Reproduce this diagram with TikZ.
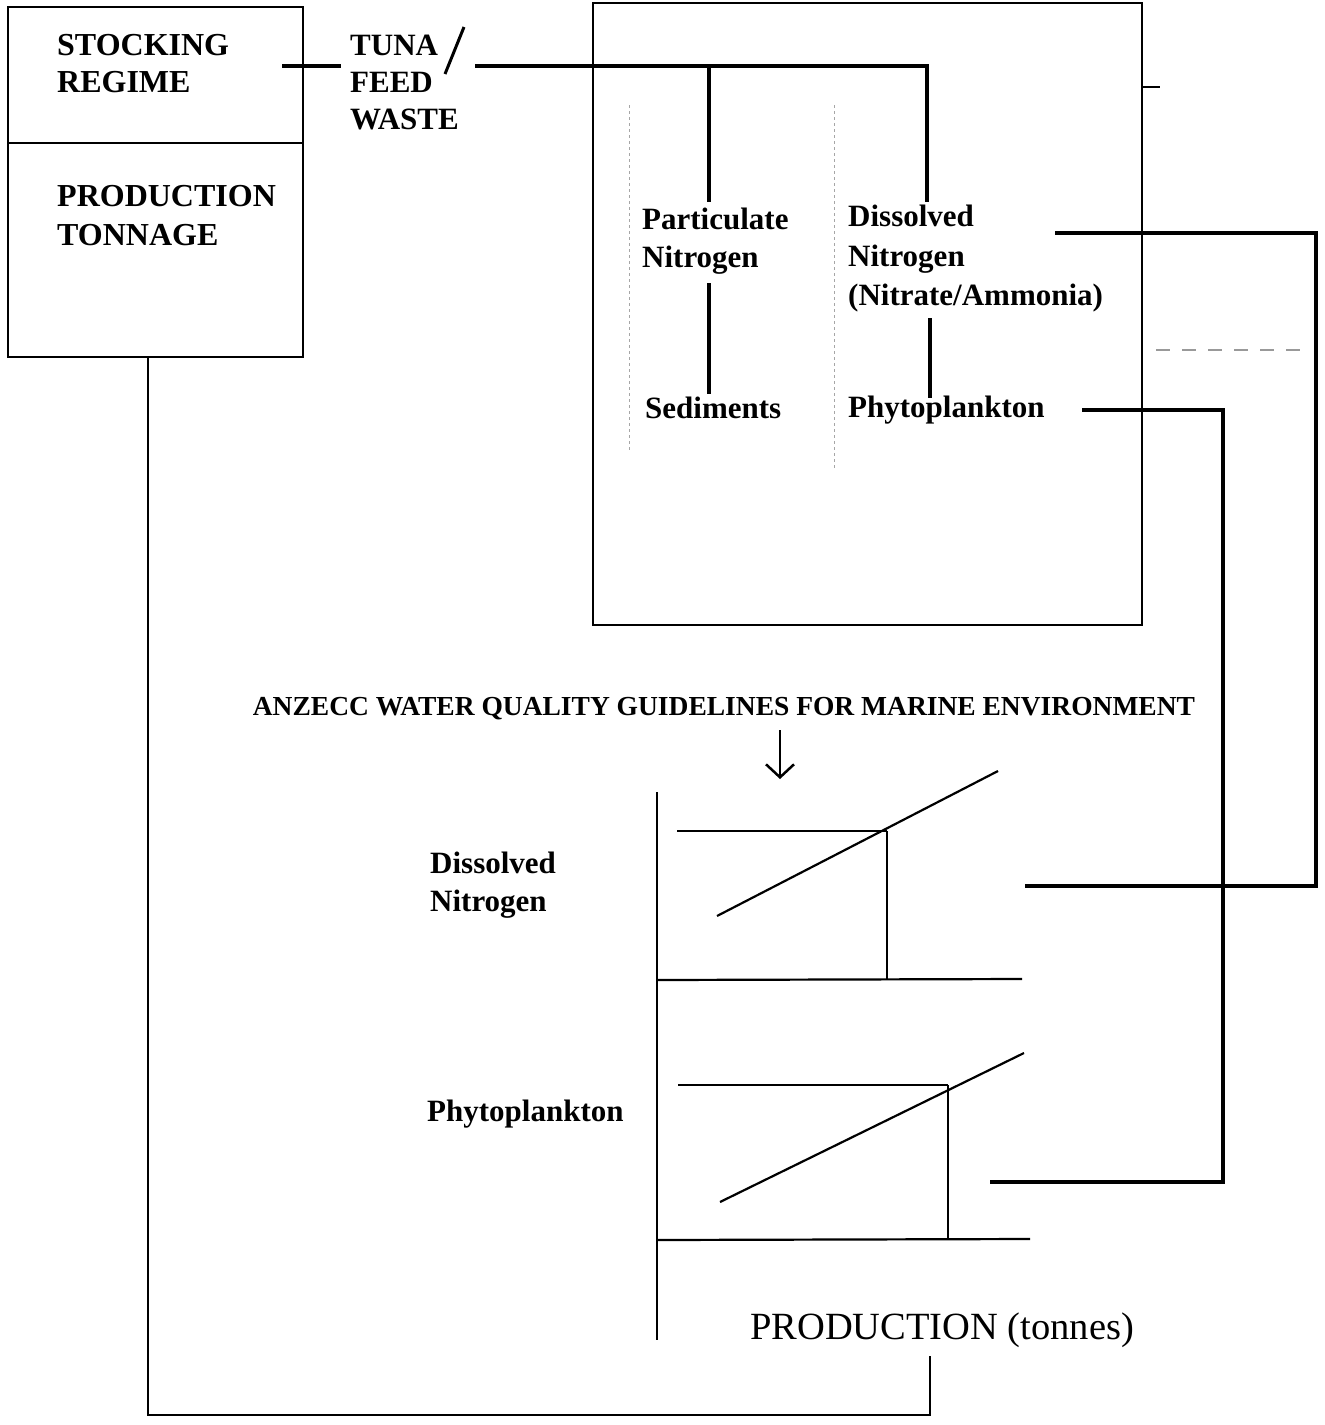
\documentclass[tikz,border=0pt]{standalone}
\usepackage{fontspec}
\setmainfont{Liberation Serif}
\usetikzlibrary{arrows.meta}
\begin{document}
\begin{tikzpicture}[x=1pt,y=-1pt,
  lbl/.style={font=\fontsize{31}{38.5}\selectfont\bfseries, align=left, anchor=west, inner sep=0pt},
  boxl/.style={draw, line width=2.3pt, inner sep=0pt},
  conn/.style={line width=3.5pt},
  chart/.style={line width=2.2pt},
  faint/.style={gray!70, dashed, line width=0.8pt}]
\useasboundingbox (0,0) rectangle (1325,1425);
\fill[white] (0,0) rectangle (1325,1425);

% left box
\node[boxl, minimum width=295pt, minimum height=350pt] (lbox) at (155.5,182) {};
\draw[line width=2.3pt] (8,143) -- (303,143);
\node[lbl, font=\fontsize{32}{37}\selectfont\bfseries] (stock) at (57,63.5) {STOCKING\\REGIME};
\node[lbl, font=\fontsize{32}{39}\selectfont\bfseries] (prod) at (57,215.5) {PRODUCTION\\TONNAGE};

% tuna feed waste
\node[lbl, font=\fontsize{31}{37}\selectfont\bfseries] (tuna) at (350,82) {TUNA\\FEED\\WASTE};
\draw[line width=3pt] (464,27) -- (445,74);

% right box
\node[boxl, minimum width=549pt, minimum height=622pt] (rbox) at (867.5,314) {};
\node[lbl] (partic) at (642,241) {Particulate\\Nitrogen};
\node[lbl] (sed) at (645,408) {Sediments};
\node[lbl, font=\fontsize{31}{39.5}\selectfont\bfseries] (diss) at (848,259) {Dissolved\\Nitrogen\\(Nitrate/Ammonia)};
\node[lbl] (phyto) at (848,410) {Phytoplankton};

% faint marks
\draw[faint] (629,105) -- (629,450);
\draw[faint] (834,105) -- (834,470);
\draw[gray!80, line width=1.2pt, dash pattern=on 14pt off 12pt] (1156,350) -- (1312,350);
\draw[line width=2.3pt] (rbox.east |- 0,87) -- (1160,87);

% coordinates
\coordinate (s1) at (282,66);
\coordinate (t1) at (475,66);
\coordinate (jp) at (709,66);
\coordinate (jd) at (927,66);
\coordinate (pt) at (709,202);
\coordinate (dt) at (927,202);
\coordinate (pb) at (709,283);
\coordinate (sb) at (709,394);
\coordinate (db) at (930,318);
\coordinate (phb) at (930,398);

\draw[conn] (s1) -- ([xshift=-9pt]tuna.west |- s1);
\draw[conn] (t1) -- (jd) -- (dt);
\draw[conn] (jp) -- (pt);
\draw[conn] (pb) -- (sb);
\draw[conn] (db) -- (phb);

% charts
\node[font=\fontsize{27.5}{30}\selectfont\bfseries, inner sep=0pt] (anz) at (724,709) {ANZECC WATER QUALITY GUIDELINES FOR MARINE ENVIRONMENT};
\coordinate (ar1) at (780,730);
\coordinate (ar2) at (780,779);
\draw[line width=2.5pt, -{Straight Barb[length=13pt,width=28pt,line width=2.5pt]}] (ar1) -- (ar2);

\coordinate (ax1) at (657,792);
\coordinate (ax2) at (657,1340);
\draw[chart] (ax1) -- (ax2);

\node[lbl] (cdn) at (430,885) {Dissolved\\Nitrogen};
\node[lbl] (cph) at (427,1114) {Phytoplankton};

% upper chart
\draw[chart] (657,980) -- (1022,979);
\draw[chart] (677,831) -- (887,831);
\draw[chart] (717,916) -- (998,771);
\draw[line width=1.8pt] (887,831) -- (887,980);
% lower chart
\draw[chart] (657,1240) -- (1030,1239);
\draw[chart] (678,1085) -- (948,1085);
\draw[line width=1.8pt] (948,1085) -- (948,1240);
\draw[chart] (720,1202) -- (1024,1053);

\node[anchor=west, inner sep=0pt, font=\fontsize{38.5}{40}\selectfont] (ptn) at (750,1330) {PRODUCTION (tonnes)};

% feedback connectors
\coordinate (d1) at (1055,233);
\coordinate (d2) at (1316,233);
\coordinate (d3) at (1316,886);
\coordinate (d4) at (1025,886);
\draw[conn] (d1) -- (d2) -- (d3) -- (d4);

\coordinate (p1) at (1082,410);
\coordinate (p2) at (1223,410);
\coordinate (p3) at (1223,1182);
\coordinate (p4) at (990,1182);
\draw[conn] (p1) -- (p2) -- (p3) -- (p4);

\coordinate (q1) at (148,1415);
\coordinate (q2) at (930,1415);
\coordinate (q3) at (930,1356);
\draw[line width=2.8pt] (lbox.south -| q1) -- (q1) -- (q2) -- (q3);
\end{tikzpicture}
\end{document}
